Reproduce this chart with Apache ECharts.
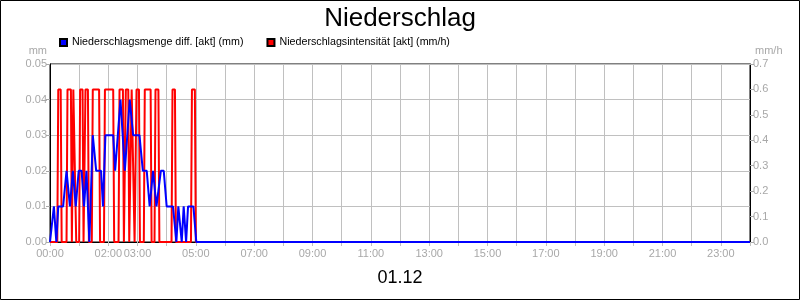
<!DOCTYPE html>
<html>
<head>
<meta charset="utf-8">
<script src="https://cdn.jsdelivr.net/npm/echarts@6/dist/echarts.min.js"></script>
<style>
html,body{margin:0;padding:0;background:#fff;}
#c{width:800px;height:300px;}
</style>
</head>
<body>
<div id="c"></div>
<script>
// Time in minutes since 00:00 on 01.12
var blueMinutes = [0, 1, 8, 13, 17, 27, 34, 36, 41, 47, 53, 59, 65, 70, 75, 81, 88, 95, 105, 109, 114, 130, 134, 145, 154, 164, 171, 184, 191, 199, 205, 212, 219, 228, 234, 240, 253, 260, 264, 271, 275, 280, 284, 295, 301, 1440];
var blueValues  = [0, 0, 0.01, 0, 0.01, 0.01, 0.02, 0.02, 0.01, 0.02, 0.01, 0.02, 0.02, 0.01, 0.02, 0, 0.03, 0.02, 0.02, 0.01, 0.03, 0.03, 0.02, 0.04, 0.02, 0.04, 0.03, 0.03, 0.02, 0.02, 0.01, 0.02, 0.01, 0.02, 0.02, 0.01, 0.01, 0, 0.01, 0, 0.01, 0, 0.01, 0.01, 0, 0];

var redMinutes = [0, 15, 17, 22, 24, 34, 36, 43, 45, 46, 48, 52, 54, 60, 62, 67, 69, 71, 73, 78, 80, 86, 88, 101, 103, 111, 113, 130, 132, 141, 143, 150, 152, 154, 156, 161, 163, 166, 168, 172, 174, 176, 178, 183, 185, 193, 195, 207, 209, 215, 217, 223, 225, 250, 252, 257, 259, 290, 292, 298, 300, 1440];
var redValues  = [0, 0, 0.6, 0.6, 0, 0, 0.6, 0.6, 0, 0, 0.6, 0.6, 0, 0, 0.6, 0.6, 0, 0, 0.6, 0.6, 0, 0, 0.6, 0.6, 0, 0, 0.6, 0.6, 0, 0, 0.6, 0.6, 0, 0, 0.6, 0.6, 0, 0, 0.6, 0.6, 0, 0, 0.6, 0.6, 0, 0, 0.6, 0.6, 0, 0, 0.6, 0.6, 0, 0, 0.6, 0.6, 0, 0, 0.6, 0.6, 0, 0];

var shownHours = [0, 2, 3, 5, 7, 9, 11, 13, 15, 17, 19, 21, 23];
var titleText = 'Niederschlag';
var dateText = '01.12';
var blueName = 'Niederschlagsmenge diff. [akt] (mm)';
var redName = 'Niederschlagsintensität [akt] (mm/h)';

function zip(a, b) { return a.map(function (v, i) { return [v, b[i]]; }); }

var FONT = '"Liberation Sans", Arial, sans-serif';
var GRAY = '#a8a8a8';
var chart = echarts.init(document.getElementById('c'));
chart.setOption({
  animation: false,
  backgroundColor: '#fff',
  textStyle: { fontFamily: FONT },
  title: {
    text: titleText, left: 'center', top: 1,
    textStyle: { fontSize: 26, fontWeight: 'normal', color: '#000', fontFamily: FONT }
  },
  legend: {
    data: [blueName, redName],
    left: 59, top: 37, padding: 0,
    itemWidth: 7, itemHeight: 7, itemGap: 23,
    icon: 'rect',
    textStyle: { fontSize: 10.7, color: '#000', fontFamily: FONT }
  },
  grid: { left: 50, right: 50, top: 64, bottom: 58, show: true, borderColor: '#000', borderWidth: 1, backgroundColor: 'transparent' },
  xAxis: {
    type: 'value', min: 0, max: 1440, interval: 60,
    name: dateText, nameLocation: 'middle', nameGap: 27,
    nameTextStyle: { fontSize: 18, color: '#000', fontFamily: FONT },
    axisLine: { show: true, lineStyle: { color: '#000', width: 1 } },
    axisTick: { show: true, length: 4, lineStyle: { color: '#c0c0c0' } },
    axisLabel: {
      fontSize: 11, color: GRAY, margin: 6, fontFamily: FONT,
      formatter: function (v) {
        var h = Math.round(v / 60);
        if (shownHours.indexOf(h) < 0 || v >= 1440) return '';
        return (h < 10 ? '0' : '') + h + ':00';
      }
    },
    splitLine: { show: true, lineStyle: { color: '#c0c0c0', width: 1 } }
  },
  yAxis: [
    {
      type: 'value', min: 0, max: 0.05, interval: 0.01, position: 'left',
      name: 'mm', nameLocation: 'end', nameGap: 8,
      nameTextStyle: { fontSize: 11, color: GRAY, fontFamily: FONT, align: 'right', padding: [0, 3, 0, 0] },
      axisLine: { show: true, lineStyle: { color: '#000' } },
      axisTick: { show: true, length: 4, lineStyle: { color: GRAY } },
      axisLabel: { fontSize: 11, color: GRAY, margin: 3, fontFamily: FONT, formatter: function (v) { return v.toFixed(2); } },
      splitLine: { show: true, lineStyle: { color: '#c0c0c0' } }
    },
    {
      type: 'value', min: 0, max: 0.7, interval: 0.1, position: 'right',
      name: 'mm/h', nameLocation: 'end', nameGap: 8,
      nameTextStyle: { fontSize: 11, color: GRAY, fontFamily: FONT, align: 'left', padding: [0, 0, 0, 5] },
      axisLine: { show: true, lineStyle: { color: '#000' } },
      axisTick: { show: true, length: 4, lineStyle: { color: GRAY } },
      axisLabel: { fontSize: 11, color: GRAY, margin: 3, fontFamily: FONT, formatter: function (v) { return v.toFixed(1); } },
      splitLine: { show: false }
    }
  ],
  series: [
    {
      name: redName, type: 'line', yAxisIndex: 1, data: zip(redMinutes, redValues),
      showSymbol: false, symbol: 'none', color: '#ff0000',
      lineStyle: { color: '#ff0000', width: 2 },
      itemStyle: { color: '#ff0000', borderColor: '#000', borderWidth: 1 }
    },
    {
      name: blueName, type: 'line', yAxisIndex: 0, data: zip(blueMinutes, blueValues),
      showSymbol: false, symbol: 'none', color: '#0000ff',
      lineStyle: { color: '#0000ff', width: 2 },
      itemStyle: { color: '#0000ff', borderColor: '#000', borderWidth: 1 }
    }
  ],
  graphic: [{
    type: 'rect', silent: true,
    shape: { x: 0.5, y: 0.5, width: 799, height: 299 },
    style: { fill: 'none', stroke: '#000', lineWidth: 1 }
  }]
});
</script>
</body>
</html>
